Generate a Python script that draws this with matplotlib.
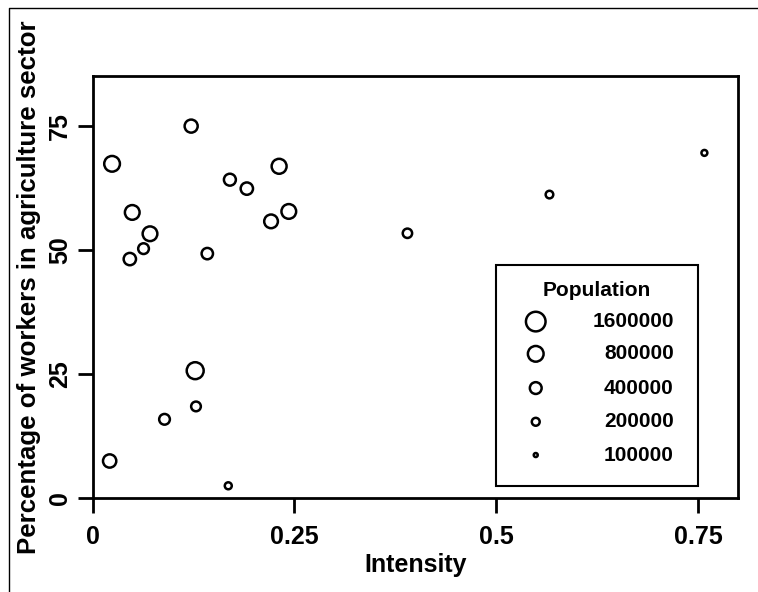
import numpy as np
import matplotlib.pyplot as plt
from matplotlib.lines import Line2D
from matplotlib.patches import Rectangle

plt.rcParams['font.family'] = ['Liberation Sans', 'DejaVu Sans']
plt.rcParams['font.weight'] = 'bold'

# values
intensity = [0.122, 0.024, 0.049, 0.071, 0.063, 0.046, 0.142, 0.231, 0.170, 0.191,
             0.243, 0.221, 0.127, 0.128, 0.089, 0.021, 0.168, 0.758, 0.566, 0.390]
agri_pct = [74.9, 67.3, 57.5, 53.2, 50.2, 48.1, 49.2, 66.8, 64.1, 62.3,
            57.7, 55.7, 25.6, 18.4, 15.8, 7.4, 2.4, 69.5, 61.1, 53.3]
population = [500000, 800000, 670000, 670000, 330000, 440000, 370000, 700000, 410000, 440000,
              670000, 560000, 1000000, 275000, 330000, 520000, 170000, 140000, 190000, 260000]

legend_pop = [1600000, 800000, 400000, 200000, 100000]
legend_y = [35.5, 29.0, 22.1, 15.3, 8.6]

xticks = [0, 0.25, 0.5, 0.75]
xticklabels = ['0', '0.25', '0.5', '0.75']
yticks = [0, 25, 50, 75]


def msize(pop):
    # marker diameter in px grows with log of population
    d = 4 + 3.9 * np.log2(np.asarray(pop) / 1e5)
    return (d * 0.72) ** 2


fig = plt.figure(figsize=(7.58, 5.92), dpi=100)
ax = fig.add_axes([92.7 / 758, 1 - 497.7 / 592, 645.6 / 758, 421.7 / 592])

ax.scatter(intensity, agri_pct, s=msize(population), facecolors='none',
           edgecolors='black', linewidths=1.8, zorder=3)

ax.set_xlim(0, 0.8)
ax.set_ylim(0, 85)
ax.set_xticks(xticks)
ax.set_xticklabels(xticklabels)
ax.set_yticks(yticks)
for s in ax.spines.values():
    s.set_linewidth(2)
ax.tick_params(direction='out', length=11, width=2, labelsize=18)
ax.tick_params(axis='x', pad=9)
ax.tick_params(axis='y', pad=4, labelrotation=90)
for lab in ax.get_yticklabels():
    lab.set_va('center')

ax.set_xlabel('Intensity', fontsize=18, fontweight='bold', va='center')
ax.xaxis.set_label_coords(0.5, -(565 - 497.7) / 421.7)
ax.set_ylabel('Percentage of workers in agriculture sector', fontsize=18.6,
              fontweight='bold', va='center')
ax.yaxis.set_label_coords((29 - 92.7) / 645.6, 0.5)

# legend box
ax.add_patch(Rectangle((0.5, 2.36), 0.25, 46.95 - 2.36, fill=False,
                       edgecolor='black', linewidth=1.5, zorder=4))
ax.text(0.624, 41.7, 'Population', ha='center', va='center', fontsize=15,
        fontweight='bold')
ax.scatter([0.549] * len(legend_pop), legend_y, s=msize(legend_pop),
           facecolors='none', edgecolors='black', linewidths=1.8, zorder=5)
for p, yy in zip(legend_pop, legend_y):
    ax.text(0.72, yy, str(p), ha='right', va='center', fontsize=15,
            fontweight='bold')

# outer frame (only top and left visible)
fig.add_artist(Line2D([9 / 758, 9 / 758, 1], [0, 1 - 8 / 592, 1 - 8 / 592],
                      transform=fig.transFigure, color='black', linewidth=1))

fig.savefig('out.png', dpi=100)
